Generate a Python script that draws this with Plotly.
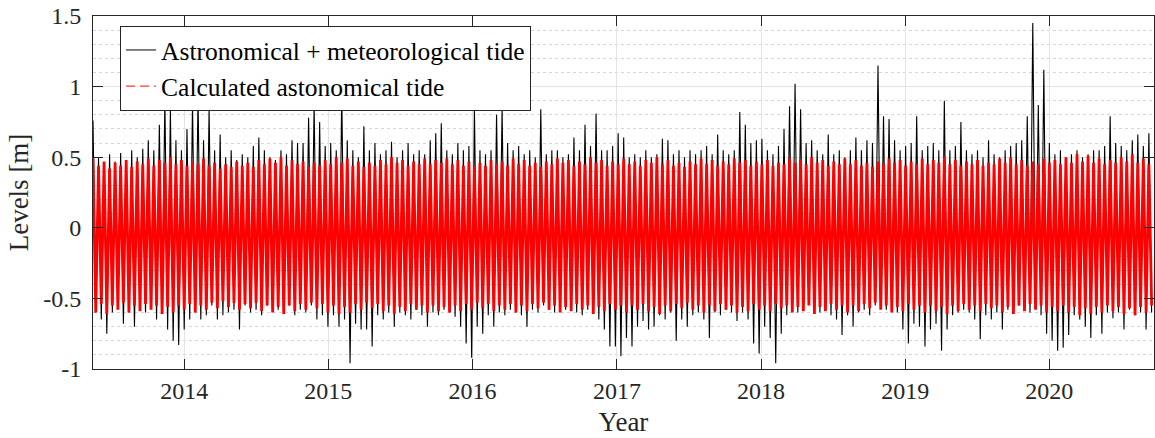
import pandas as pd
import plotly.graph_objects as go

# ---- data (one spring-tide high / low pair every 14 days) ----
start_date = "2013-05-15"
step_days = 14

black_high = [
    0.76, 0.50, 0.46, 0.52, 0.47, 0.53, 0.48, 0.55, 0.50, 0.56, 0.62, 0.55, 0.73, 0.91, 0.84, 0.62,
    0.55, 0.70, 0.88, 0.94, 0.62, 0.84, 0.55, 0.66, 0.50, 0.55, 0.48, 0.52, 0.50, 0.58, 0.64, 0.55,
    0.50, 0.48, 0.55, 0.52, 0.62, 0.60, 0.60, 0.78, 0.88, 0.75, 0.58, 0.60, 0.55, 0.96, 0.62, 0.55,
    0.50, 0.72, 0.55, 0.60, 0.52, 0.55, 0.61, 0.50, 0.55, 0.60, 0.52, 0.55, 0.52, 0.62, 0.67, 0.74,
    0.55, 0.52, 0.60, 0.55, 0.58, 0.84, 0.55, 0.52, 0.55, 0.80, 0.85, 0.60, 0.55, 0.58, 0.52, 0.55,
    0.50, 0.84, 0.52, 0.55, 0.55, 0.50, 0.52, 0.64, 0.55, 0.73, 0.58, 0.81, 0.55, 0.55, 0.58, 0.67,
    0.64, 0.50, 0.52, 0.50, 0.55, 0.50, 0.52, 0.63, 0.62, 0.52, 0.55, 0.50, 0.55, 0.52, 0.55, 0.58,
    0.52, 0.66, 0.55, 0.52, 0.55, 0.82, 0.73, 0.60, 0.62, 0.63, 0.55, 0.52, 0.58, 0.70, 0.86, 1.02,
    0.84, 0.60, 0.62, 0.55, 0.52, 0.66, 0.52, 0.55, 0.50, 0.55, 0.64, 0.55, 0.62, 0.60, 1.15, 0.79,
    0.77, 0.62, 0.55, 0.58, 0.60, 0.79, 0.55, 0.58, 0.60, 0.55, 0.90, 0.55, 0.58, 0.75, 0.55, 0.52,
    0.55, 0.50, 0.62, 0.52, 0.50, 0.55, 0.58, 0.60, 0.62, 0.79, 1.45, 0.87, 1.12, 0.60, 0.52, 0.55,
    0.50, 0.52, 0.55, 0.50, 0.52, 0.55, 0.55, 0.58, 0.79, 0.60, 0.58, 0.55, 0.62, 0.66, 0.58, 0.67,
]

black_low = [
    -0.60, -0.65, -0.75, -0.60, -0.55, -0.68, -0.60, -0.70, -0.55, -0.60, -0.55, -0.65, -0.60, -0.72, -0.80, -0.83,
    -0.72, -0.65, -0.60, -0.65, -0.62, -0.55, -0.65, -0.62, -0.60, -0.58, -0.72, -0.55, -0.60, -0.58, -0.62, -0.55,
    -0.55, -0.58, -0.60, -0.55, -0.62, -0.58, -0.60, -0.55, -0.65, -0.62, -0.70, -0.62, -0.70, -0.65, -0.96, -0.68,
    -0.72, -0.72, -0.84, -0.62, -0.65, -0.60, -0.70, -0.60, -0.62, -0.65, -0.58, -0.62, -0.70, -0.60, -0.62, -0.58,
    -0.60, -0.63, -0.70, -0.82, -0.92, -0.70, -0.75, -0.62, -0.70, -0.60, -0.62, -0.58, -0.60, -0.62, -0.70, -0.58,
    -0.60, -0.55, -0.58, -0.60, -0.55, -0.58, -0.56, -0.60, -0.62, -0.58, -0.60, -0.65, -0.72, -0.84, -0.84, -0.91,
    -0.78, -0.84, -0.70, -0.66, -0.72, -0.70, -0.62, -0.65, -0.60, -0.80, -0.65, -0.70, -0.62, -0.60, -0.65, -0.78,
    -0.60, -0.62, -0.58, -0.60, -0.66, -0.60, -0.65, -0.82, -0.89, -0.70, -0.78, -0.96, -0.75, -0.62, -0.55, -0.60,
    -0.58, -0.53, -0.58, -0.60, -0.55, -0.62, -0.65, -0.76, -0.62, -0.70, -0.60, -0.58, -0.62, -0.55, -0.52, -0.58,
    -0.55, -0.60, -0.72, -0.82, -0.68, -0.70, -0.84, -0.72, -0.68, -0.87, -0.72, -0.62, -0.60, -0.58, -0.60, -0.65,
    -0.79, -0.62, -0.65, -0.60, -0.72, -0.58, -0.60, -0.55, -0.58, -0.60, -0.55, -0.62, -0.75, -0.80, -0.87, -0.85,
    -0.76, -0.62, -0.65, -0.70, -0.78, -0.62, -0.75, -0.60, -0.64, -0.60, -0.72, -0.58, -0.62, -0.60, -0.72, -0.60,
]

red_high = [
    0.50, 0.44, 0.47, 0.42, 0.46, 0.44, 0.48, 0.43, 0.47, 0.45, 0.49, 0.44, 0.48, 0.46, 0.50, 0.45,
    0.48, 0.44, 0.47, 0.45, 0.49, 0.44, 0.46, 0.42, 0.45, 0.43, 0.47, 0.44, 0.46, 0.43, 0.48, 0.45,
    0.49, 0.46, 0.50, 0.44, 0.48, 0.45, 0.47, 0.43, 0.46, 0.44, 0.48, 0.45, 0.50, 0.46, 0.49, 0.44,
    0.47, 0.43, 0.46, 0.44, 0.48, 0.45, 0.50, 0.46, 0.48, 0.44, 0.47, 0.45, 0.49, 0.45, 0.48, 0.46,
    0.49, 0.45, 0.48, 0.44, 0.47, 0.43, 0.46, 0.44, 0.48, 0.45, 0.47, 0.44, 0.49, 0.45, 0.48, 0.44,
    0.46, 0.43, 0.47, 0.45, 0.49, 0.46, 0.48, 0.44, 0.47, 0.45, 0.50, 0.46, 0.48, 0.44, 0.47, 0.45,
    0.49, 0.45, 0.47, 0.44, 0.48, 0.46, 0.50, 0.45, 0.48, 0.44, 0.46, 0.43, 0.47, 0.45, 0.49, 0.45,
    0.48, 0.44, 0.47, 0.45, 0.49, 0.46, 0.48, 0.44, 0.47, 0.45, 0.48, 0.44, 0.46, 0.45, 0.49, 0.46,
    0.48, 0.45, 0.50, 0.46, 0.48, 0.44, 0.47, 0.45, 0.49, 0.45, 0.48, 0.44, 0.46, 0.43, 0.47, 0.45,
    0.49, 0.46, 0.48, 0.44, 0.47, 0.45, 0.49, 0.45, 0.48, 0.46, 0.50, 0.45, 0.48, 0.44, 0.47, 0.45,
    0.48, 0.44, 0.46, 0.45, 0.49, 0.46, 0.50, 0.45, 0.48, 0.44, 0.47, 0.45, 0.49, 0.46, 0.48, 0.45,
    0.50, 0.46, 0.52, 0.47, 0.51, 0.46, 0.49, 0.45, 0.48, 0.46, 0.50, 0.47, 0.52, 0.46, 0.49, 0.45,
]

red_low = [
    -0.60, -0.54, -0.61, -0.55, -0.58, -0.53, -0.60, -0.55, -0.59, -0.54, -0.58, -0.55, -0.61, -0.56, -0.60, -0.55,
    -0.58, -0.54, -0.60, -0.55, -0.58, -0.53, -0.57, -0.52, -0.56, -0.53, -0.58, -0.54, -0.57, -0.53, -0.59, -0.55,
    -0.60, -0.56, -0.61, -0.55, -0.59, -0.54, -0.58, -0.53, -0.57, -0.54, -0.60, -0.55, -0.61, -0.56, -0.60, -0.54,
    -0.58, -0.53, -0.57, -0.54, -0.59, -0.55, -0.61, -0.56, -0.59, -0.54, -0.58, -0.55, -0.60, -0.55, -0.59, -0.56,
    -0.60, -0.55, -0.59, -0.54, -0.58, -0.53, -0.57, -0.54, -0.59, -0.55, -0.58, -0.54, -0.60, -0.55, -0.59, -0.54,
    -0.57, -0.53, -0.58, -0.55, -0.60, -0.56, -0.59, -0.54, -0.58, -0.55, -0.61, -0.56, -0.59, -0.54, -0.58, -0.55,
    -0.60, -0.55, -0.58, -0.54, -0.59, -0.56, -0.61, -0.55, -0.59, -0.54, -0.57, -0.53, -0.58, -0.55, -0.60, -0.55,
    -0.59, -0.54, -0.58, -0.55, -0.60, -0.56, -0.59, -0.54, -0.58, -0.55, -0.59, -0.54, -0.57, -0.55, -0.60, -0.56,
    -0.59, -0.55, -0.61, -0.56, -0.59, -0.54, -0.58, -0.55, -0.60, -0.55, -0.59, -0.54, -0.57, -0.53, -0.58, -0.55,
    -0.60, -0.56, -0.59, -0.54, -0.58, -0.55, -0.60, -0.55, -0.59, -0.56, -0.61, -0.55, -0.59, -0.54, -0.58, -0.55,
    -0.59, -0.54, -0.57, -0.55, -0.60, -0.56, -0.61, -0.55, -0.59, -0.54, -0.58, -0.55, -0.60, -0.56, -0.59, -0.55,
    -0.60, -0.56, -0.62, -0.57, -0.61, -0.56, -0.60, -0.55, -0.59, -0.56, -0.61, -0.57, -0.62, -0.56, -0.60, -0.55,
]

series_names = ["Astronomical + meteorological tide", "Calculated astonomical tide"]
years = [2014, 2015, 2016, 2017, 2018, 2019, 2020]
y_ticks = [-1, -0.5, 0, 0.5, 1, 1.5]
y_tick_labels = ["-1", "-0.5", "0", "0.5", "1", "1.5"]
x_range = ["2013-05-15", "2020-09-22"]

# ---- build the high/low alternating series ----
n = len(black_high)
times = pd.date_range(start_date, periods=2 * n, freq=f"{step_days // 2}D")


def interleave(highs, lows):
    out = []
    for h, l in zip(highs, lows):
        out.extend([h, l])
    return out


black_series = interleave(black_high, black_low)
red_series = interleave(red_high, red_low)

FONT = "Liberation Serif, Times New Roman, serif"
AX = "#262626"

fig = go.Figure()
# dense data lines (the thick red stroke stands in for the very dense dashed tide curve)
fig.add_trace(go.Scatter(
    x=times, y=black_series, mode="lines", name=series_names[0],
    line=dict(color="black", width=1.1), showlegend=False, legendgroup="a",
))
fig.add_trace(go.Scatter(
    x=times, y=red_series, mode="lines", name=series_names[1],
    line=dict(color="#ff0000", width=2.8), showlegend=False, legendgroup="b",
))
# legend entries with the original line styles
fig.add_trace(go.Scatter(
    x=[None], y=[None], mode="lines", name=series_names[0],
    line=dict(color="black", width=1), legendgroup="a",
))
fig.add_trace(go.Scatter(
    x=[None], y=[None], mode="lines", name=series_names[1],
    line=dict(color="#ff0000", width=1, dash="9px,5px"), legendgroup="b",
))

fig.update_layout(
    width=1155, height=438,
    margin=dict(l=93, r=1, t=16, b=69),
    paper_bgcolor="white", plot_bgcolor="white",
    font=dict(family=FONT, size=25, color="#262626"),
    showlegend=True,
    legend=dict(
        x=0.0255, y=0.972, xanchor="left", yanchor="top",
        bgcolor="white", bordercolor=AX, borderwidth=1,
        font=dict(family=FONT, size=25.5, color="black"),
        tracegroupgap=0, itemwidth=30,
    ),
)

fig.update_xaxes(
    type="date", range=x_range,
    tickvals=[f"{y}-01-01" for y in years], ticktext=[str(y) for y in years],
    ticks="inside", ticklen=10, tickcolor=AX, tickwidth=1,
    showline=True, linecolor=AX, linewidth=1, mirror="ticks",
    showgrid=True, gridcolor="#e3e3e3", gridwidth=1,
    zeroline=False,
    tickfont=dict(family=FONT, size=24, color="#262626"),
    title=dict(text="Year", font=dict(family=FONT, size=27, color="#262626"), standoff=9),
)
fig.update_yaxes(
    range=[-1, 1.5],
    tickvals=y_ticks, ticktext=y_tick_labels,
    ticks="inside", ticklen=10, tickcolor=AX, tickwidth=1,
    showline=True, linecolor=AX, linewidth=1, mirror="ticks",
    showgrid=True, gridcolor="#e3e3e3", gridwidth=1,
    minor=dict(dtick=0.1, showgrid=True, griddash="dot", gridcolor="#d6d6d6", gridwidth=1),
    zeroline=False,
    ticklabelstandoff=6,
    tickfont=dict(family=FONT, size=24, color="#262626"),
    title=dict(text="Levels [m]", font=dict(family=FONT, size=27, color="#262626"), standoff=6),
)

fig.write_html("out.html")
